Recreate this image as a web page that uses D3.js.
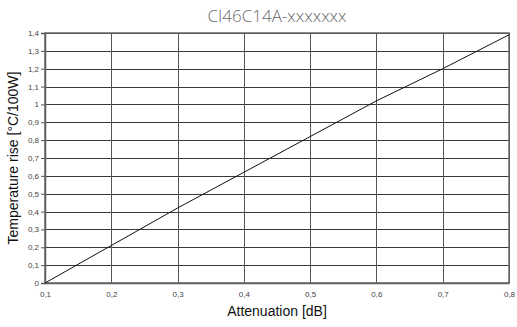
<!DOCTYPE html>
<html>
<head>
<meta charset="utf-8">
<script src="https://cdn.jsdelivr.net/npm/d3@7"></script>
<style>
  body { margin: 0; background: #fff; }
  svg { display: block; }
</style>
</head>
<body>
<svg id="chart" width="517" height="327"></svg>
<script>
// values
var attenuation = [0.1, 0.2, 0.3, 0.4, 0.5, 0.6, 0.7, 0.8];
var tempRise = [0, 0.21, 0.42, 0.62, 0.82, 1.02, 1.2, 1.39];
var xTicks = [0.1, 0.2, 0.3, 0.4, 0.5, 0.6, 0.7, 0.8];
var yTicks = [0, 0.1, 0.2, 0.3, 0.4, 0.5, 0.6, 0.7, 0.8, 0.9, 1, 1.1, 1.2, 1.3, 1.4];

var svg = d3.select("#chart");
var width = +svg.attr("width");
var height = +svg.attr("height");
var margin = {top: 33, right: 8, bottom: 44, left: 45};

var x = d3.scaleLinear().domain([0.1, 0.8]).range([margin.left, width - margin.right]);
var y = d3.scaleLinear().domain([0, 1.4]).range([height - margin.bottom, margin.top]);

var fmt = d => String(+d.toFixed(1)).replace(".", ",");

// grid
svg.append("g")
    .selectAll("line.hg")
    .data(yTicks)
    .join("line")
    .attr("x1", margin.left).attr("x2", width - margin.right)
    .attr("y1", d => Math.round(y(d)) + 0.5).attr("y2", d => Math.round(y(d)) + 0.5)
    .attr("stroke", "#3a3a3a").attr("stroke-width", 1);

svg.append("g")
    .selectAll("line.vg")
    .data(xTicks)
    .join("line")
    .attr("y1", margin.top).attr("y2", height - margin.bottom)
    .attr("x1", d => Math.round(x(d)) + 0.5).attr("x2", d => Math.round(x(d)) + 0.5)
    .attr("stroke", "#555").attr("stroke-width", 1);

// axes
var yAxis = svg.append("g")
    .attr("transform", `translate(${margin.left},0)`)
    .call(d3.axisLeft(y).tickValues(yTicks).tickFormat(fmt).tickSize(4).tickPadding(2));

var xAxis = svg.append("g")
    .attr("transform", `translate(0,${height - margin.bottom})`)
    .call(d3.axisBottom(x).tickValues(xTicks).tickFormat(fmt).tickSize(0).tickPadding(8));

[yAxis, xAxis].forEach(function(g) {
    g.select(".domain").attr("stroke", "#555").attr("stroke-width", 1.5);
    g.selectAll(".tick line").attr("stroke", "#555");
    g.selectAll("text")
        .attr("fill", "#444")
        .style("font-family", "'Liberation Sans', Arial, sans-serif")
        .style("font-size", "8px");
});

// frame
svg.append("rect")
    .attr("x", margin.left).attr("y", margin.top)
    .attr("width", width - margin.left - margin.right)
    .attr("height", height - margin.top - margin.bottom)
    .attr("fill", "none").attr("stroke", "#666").attr("stroke-width", 1.5);

// series
var line = d3.line()
    .x((d, i) => x(attenuation[i]))
    .y(d => y(d));

svg.append("path")
    .datum(tempRise)
    .attr("d", line)
    .attr("fill", "none")
    .attr("stroke", "#111")
    .attr("stroke-width", 1);

// titles
svg.append("text")
    .attr("x", (margin.left + width - margin.right) / 2)
    .attr("y", 22)
    .attr("text-anchor", "middle")
    .attr("fill", "#6a6a6a")
    .style("font-family", "'Open Sans', sans-serif")
    .style("font-weight", 300)
    .style("font-size", "17px")
    .text("CI46C14A-xxxxxxx");

svg.append("text")
    .attr("x", (margin.left + width - margin.right) / 2)
    .attr("y", 316)
    .attr("text-anchor", "middle")
    .attr("fill", "#111")
    .style("font-family", "'Liberation Sans', Arial, sans-serif")
    .style("font-size", "14px")
    .text("Attenuation [dB]");

svg.append("text")
    .attr("transform", `translate(18,${(margin.top + height - margin.bottom) / 2}) rotate(-90)`)
    .attr("text-anchor", "middle")
    .attr("fill", "#111")
    .style("font-family", "'Liberation Sans', Arial, sans-serif")
    .style("font-size", "14px")
    .text("Temperature rise [°C/100W]");
</script>
</body>
</html>
